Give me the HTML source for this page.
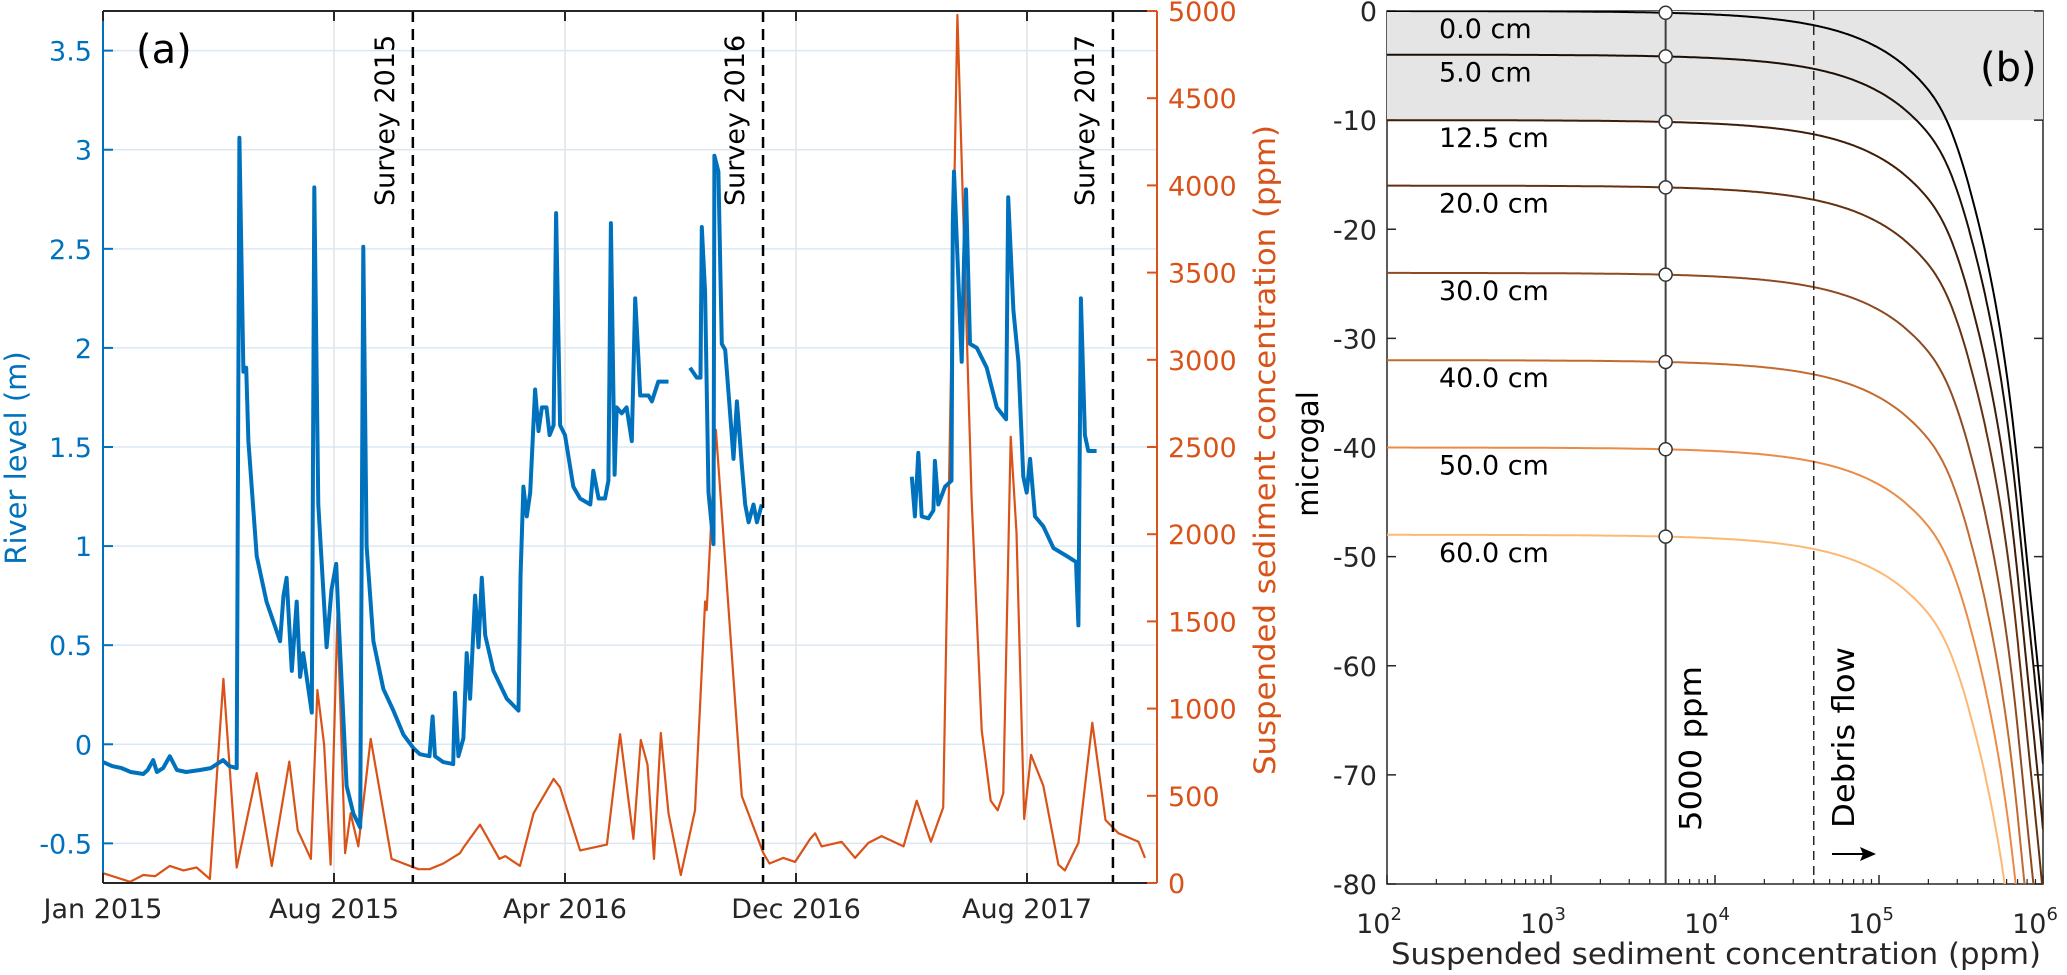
<!DOCTYPE html>
<html><head><meta charset="utf-8"><style>
html,body{margin:0;padding:0;background:#fff;width:2067px;height:975px;overflow:hidden;}
svg{display:block;font-family:"DejaVu Sans","Liberation Sans",sans-serif;}
</style></head><body>
<svg id="fig" width="2067" height="975" viewBox="0 0 2067 975" xmlns="http://www.w3.org/2000/svg"></svg>
<script>
// ---------- Panel (a) data ----------
const xTickMonths=[0,7.5,15,22.5,30];
const xTickLabels=["Jan 2015","Aug 2015","Apr 2016","Dec 2016","Aug 2017"];
const leftTicks=[-0.5,0,0.5,1,1.5,2,2.5,3,3.5];
const leftTickLabels=["-0.5","0","0.5","1","1.5","2","2.5","3","3.5"];
const rightTicks=[0,500,1000,1500,2000,2500,3000,3500,4000,4500,5000];
const surveyMonths=[10.06,21.43,32.79];
const surveyLabels=["Survey 2015","Survey 2016","Survey 2017"];
const riverT=[0,0.3,0.6,0.9,1.31,1.45,1.63,1.75,1.95,2.17,2.4,2.7,3.15,3.5,3.9,4.1,4.34,4.43,4.56,4.65,4.72,4.99,5.31,5.75,5.86,5.96,6.13,6.29,6.4,6.5,6.78,6.86,6.99,7.26,7.42,7.57,7.65,7.91,8.13,8.35,8.45,8.56,8.78,9.1,9.43,9.75,10.08,10.29,10.6,10.7,10.78,11.05,11.37,11.43,11.54,11.7,11.81,11.92,12.08,12.19,12.3,12.41,12.68,13.11,13.49,13.56,13.65,13.76,13.87,14.03,14.14,14.25,14.4,14.5,14.63,14.71,14.84,15.0,15.27,15.49,15.82,15.92,16.09,16.3,16.41,16.49,16.61,16.68,16.84,17.0,17.17,17.28,17.38,17.44,17.71,17.82,18.03,18.36,18.7,19.06,19.28,19.4,19.44,19.55,19.66,19.82,19.85,19.98,20.09,20.2,20.36,20.47,20.58,20.74,20.85,20.96,21.12,21.23,21.39,23.9,26.26,26.36,26.47,26.58,26.8,26.96,27.01,27.12,27.34,27.55,27.59,27.63,27.72,27.88,27.95,28.02,28.15,28.37,28.69,29.02,29.32,29.39,29.56,29.72,29.88,29.99,30.1,30.26,30.53,30.86,31.29,31.59,31.67,31.75,31.88,31.99,32.26];
const riverLevel=[-0.09,-0.11,-0.12,-0.14,-0.15,-0.13,-0.08,-0.14,-0.12,-0.06,-0.13,-0.14,-0.13,-0.12,-0.08,-0.11,-0.12,3.06,1.88,1.9,1.53,0.95,0.72,0.52,0.75,0.84,0.37,0.72,0.34,0.46,0.16,2.81,1.21,0.49,0.78,0.91,0.63,-0.21,-0.35,-0.42,2.51,1.0,0.52,0.28,0.17,0.05,-0.02,-0.05,-0.06,0.14,-0.06,-0.09,-0.10,0.26,-0.06,0.03,0.46,0.23,0.75,0.49,0.84,0.55,0.37,0.23,0.17,0.86,1.3,1.15,1.27,1.79,1.58,1.7,1.7,1.56,1.61,2.68,1.61,1.56,1.3,1.24,1.21,1.38,1.24,1.24,1.33,2.63,1.36,1.70,1.67,1.70,1.53,2.25,1.96,1.76,1.76,1.73,1.83,1.83,null,1.90,1.85,1.85,2.61,2.28,1.27,1.01,2.97,2.89,2.02,1.99,1.67,1.44,1.73,1.41,1.21,1.12,1.21,1.12,1.21,null,1.35,1.15,1.47,1.15,1.14,1.18,1.43,1.21,1.3,1.33,2.63,2.89,2.54,1.93,2.42,2.80,2.02,2.00,1.90,1.70,1.64,2.76,2.19,1.93,1.35,1.27,1.44,1.15,1.10,0.99,0.95,0.92,0.60,2.25,1.56,1.48,1.48];
const sscT=[0,0.88,1.31,1.69,2.17,2.61,3.04,3.47,3.91,4.34,4.99,5.48,6.05,6.32,6.75,6.96,7.18,7.39,7.61,7.86,8.04,8.29,8.69,9.37,10.24,10.6,11.05,11.59,11.7,12.24,12.87,13.06,13.54,13.98,14.63,14.84,15.49,16.36,16.79,17.22,17.46,17.68,17.89,18.11,18.36,18.76,19.22,19.55,19.6,19.9,20.74,21.44,21.64,22.09,22.47,22.96,23.12,23.33,23.98,24.42,24.85,25.28,25.99,26.42,26.88,27.28,27.74,28.2,28.53,28.82,29.05,29.23,29.47,29.66,29.91,30.13,30.53,31.02,31.23,31.67,32.12,32.55,32.97,33.62,33.83];
const sscPpm=[56,7,46,39,98,72,89,23,1171,89,630,98,696,302,138,1106,794,105,1532,171,400,210,827,138,79,79,112,171,203,335,138,154,98,400,597,548,187,220,853,253,820,679,138,860,400,46,417,1614,1565,2598,499,171,112,144,121,253,285,210,236,144,230,269,210,472,236,433,4977,2205,876,472,417,515,2559,2008,367,735,558,105,72,230,919,361,285,236,144];
// ---------- Panel (b) data ----------
const depthLabels=["0.0 cm","5.0 cm","12.5 cm","20.0 cm","30.0 cm","40.0 cm","50.0 cm","60.0 cm"];
const depthOffsets=[0,-4,-10,-16,-24,-32,-40,-48];
const curveColors=["#000000","#1d0f06","#3f1d09","#653210","#8e4b22","#c26b31","#ea8b46","#fdb874"];
const dropC=[100,1000,8900,40000,100000,148000,235000,380000,600000,800000,1000000];
const dropVal=[0.0033,0.033,0.29,1.3,3.4,5.2,8.8,17.8,33.2,50.4,65];
const markerPpm=5000;
const debrisPpm=40000;
const bYTicks=[0,-10,-20,-30,-40,-50,-60,-70,-80];
const bXExp=[2,3,4,5,6];

const NS="http://www.w3.org/2000/svg";
const svg=document.getElementById('fig');
function mk(tag,attrs,parent){const e=document.createElementNS(NS,tag);for(const k in attrs)e.setAttribute(k,attrs[k]);(parent||svg).appendChild(e);return e;}
const AX0=103,AX1=1157,AY0=11,AY1=883;
const xA=m=>AX0+m*30.8;
const yBlue=v=>AY1-(v+0.70)/4.40*(AY1-AY0);
const yOr=v=>AY1-v/5000*(AY1-AY0);
const BX0=1387,BX1=2043,BY0=11,BY1=884;
const xB=c=>BX0+(Math.log10(c)-2)*164;
const yB=v=>BY0-v*(BY1-BY0)/80;

// ===== Panel a =====
const ga=mk('g',{});


leftTicks.forEach(v=>{const l=mk('line',{x1:AX0,x2:AX1,y1:yBlue(v),y2:yBlue(v),stroke:'#dbe8f4','stroke-width':1.5},ga);

});
xTickMonths.forEach((m,i)=>{if(i===0)return;const l=mk('line',{x1:xA(m),x2:xA(m),y1:AY0,y2:AY1,stroke:'#e2e4e8','stroke-width':1.5},ga);

});
let d='';sscT.forEach((t,i)=>{d+=(i?'L':'M')+xA(t).toFixed(1)+' '+yOr(sscPpm[i]).toFixed(1);});
const po=mk('path',{d:d,fill:'none',stroke:'#D95319','stroke-width':2.2,'stroke-linejoin':'round'},ga);


d='';let pen=false;riverT.forEach((t,i)=>{const v=riverLevel[i];if(v===null){pen=false;return;}d+=(pen?'L':'M')+xA(t).toFixed(1)+' '+yBlue(v).toFixed(1);pen=true;});
const pb=mk('path',{d:d,fill:'none',stroke:'#0072BD','stroke-width':4,'stroke-linejoin':'round'},ga);


surveyMonths.forEach((m,i)=>{const x=xA(m);
const l=mk('line',{x1:x,x2:x,y1:AY0,y2:AY1,stroke:'#000','stroke-width':2.5,'stroke-dasharray':'11 7'},ga);


const t=mk('text',{x:0,y:0,transform:`translate(${x-19},206) rotate(-90)`,'font-size':27,fill:'#000'},ga);t.textContent=surveyLabels[i];

});
const axT=mk('line',{x1:AX0,x2:AX1,y1:AY0,y2:AY0,stroke:'#262626','stroke-width':2},ga);


const axB=mk('line',{x1:AX0,x2:AX1,y1:AY1,y2:AY1,stroke:'#262626','stroke-width':2},ga);


const axL=mk('line',{x1:AX0,x2:AX0,y1:AY0,y2:AY1,stroke:'#0072BD','stroke-width':2},ga);


const axR=mk('line',{x1:AX1,x2:AX1,y1:AY0,y2:AY1,stroke:'#D95319','stroke-width':2},ga);


xTickMonths.forEach((m,i)=>{const x=xA(m);
mk('line',{x1:x,x2:x,y1:AY1,y2:AY1-10,stroke:'#262626','stroke-width':2},ga);
mk('line',{x1:x,x2:x,y1:AY0,y2:AY0+10,stroke:'#262626','stroke-width':2},ga);
const t=mk('text',{x:x,y:918,'font-size':27,'text-anchor':'middle',fill:'#262626'},ga);t.textContent=xTickLabels[i];

});
leftTicks.forEach((v,i)=>{const y=yBlue(v);
mk('line',{x1:AX0,x2:AX0+10,y1:y,y2:y,stroke:'#0072BD','stroke-width':2},ga);
const t=mk('text',{x:92,y:y+10,'font-size':27,'text-anchor':'end',fill:'#0072BD'},ga);t.textContent=leftTickLabels[i];

});
rightTicks.forEach(v=>{const y=yOr(v);
mk('line',{x1:AX1,x2:AX1-10,y1:y,y2:y,stroke:'#D95319','stroke-width':2},ga);
const t=mk('text',{x:1168,y:y+10,'font-size':27,fill:'#D95319'},ga);t.textContent=String(v);

});
const yl=mk('text',{x:0,y:0,transform:'translate(26,458) rotate(-90)','font-size':29,'text-anchor':'middle',fill:'#0072BD'},ga);yl.textContent='River level (m)';


const yr=mk('text',{x:0,y:0,transform:'translate(1275,450) rotate(-90)','font-size':29,'text-anchor':'middle',fill:'#D95319',textLength:650,lengthAdjust:'spacingAndGlyphs'},ga);yr.textContent='Suspended sediment concentration (ppm)';


const pa=mk('text',{x:136,y:63,'font-size':40,fill:'#000'},ga);pa.textContent='(a)';



// ===== Panel b =====
const gb=mk('g',{});


mk('clipPath',{id:'clipb'},gb);
mk('rect',{x:BX0,y:BY0,width:BX1-BX0,height:BY1-BY0},document.getElementById('clipb'));
const box=mk('rect',{x:BX0,y:BY0,width:BX1-BX0,height:BY1-BY0,fill:'none',stroke:'#262626','stroke-width':1.5},gb);


const shade=mk('rect',{x:BX0,y:yB(0),width:BX1-BX0,height:yB(-10)-yB(0),fill:'#e5e5e5'},gb);


bYTicks.forEach(v=>{const y=yB(v);
mk('line',{x1:BX0,x2:BX0+9,y1:y,y2:y,stroke:'#262626','stroke-width':1.5},gb);
mk('line',{x1:BX1,x2:BX1-9,y1:y,y2:y,stroke:'#262626','stroke-width':1.5},gb);
const t=mk('text',{x:1377,y:y+10,'font-size':27,'text-anchor':'end',fill:'#262626'},gb);t.textContent=String(v);

});
bXExp.forEach((e,i)=>{const x=xB(Math.pow(10,e));
mk('line',{x1:x,x2:x,y1:BY1,y2:BY1-9,stroke:'#262626','stroke-width':1.5},gb);
if(i<bXExp.length-1){for(let k=2;k<10;k++){const xm=xB(k*Math.pow(10,e));mk('line',{x1:xm,x2:xm,y1:BY1,y2:BY1-5,stroke:'#262626','stroke-width':1.2},gb);}}
const t=mk('text',{x:x-8,y:933,'font-size':27,'text-anchor':'middle',fill:'#262626'},gb);


const s1=mk('tspan',{},t);s1.textContent='10';
const s2=mk('tspan',{dy:-13,'font-size':18},t);s2.textContent=String(e);});
// drop: monotone cubic in log-log space
const LX=dropC.map(c=>Math.log10(c)), LY=dropVal.map(v=>Math.log10(v));
const nP=LX.length, sl=[], tg=[];
for(let i=0;i<nP-1;i++)sl.push((LY[i+1]-LY[i])/(LX[i+1]-LX[i]));
for(let i=0;i<nP;i++){if(i===0)tg.push(sl[0]);else if(i===nP-1)tg.push(sl[nP-2]);else tg.push((sl[i-1]+sl[i])/2);}
function drop(c){const x=Math.log10(c);let i=0;while(i<nP-2&&x>LX[i+1])i++;
const h=LX[i+1]-LX[i],t=Math.min(1,Math.max(0,(x-LX[i])/h));
const h00=2*t*t*t-3*t*t+1,h10=t*t*t-2*t*t+t,h01=-2*t*t*t+3*t*t,h11=t*t*t-t*t;
return Math.pow(10,h00*LY[i]+h10*h*tg[i]+h01*LY[i+1]+h11*h*tg[i+1]);}
const gc=mk('g',{'clip-path':'url(#clipb)'},gb);
depthOffsets.forEach((off,i)=>{let dd='';for(let k=0;k<=600;k++){const c=Math.pow(10,2+4*k/600);dd+=(k?'L':'M')+xB(c).toFixed(1)+' '+yB(off-drop(c)).toFixed(1);}
const p=mk('path',{d:dd,fill:'none',stroke:curveColors[i],'stroke-width':2},gc);

});
const l5=mk('line',{x1:xB(markerPpm),x2:xB(markerPpm),y1:BY0,y2:BY1,stroke:'#404040','stroke-width':2},gb);


const ld=mk('line',{x1:xB(debrisPpm),x2:xB(debrisPpm),y1:BY0,y2:BY1,stroke:'#262626','stroke-width':1.5,'stroke-dasharray':'9 6'},gb);


depthOffsets.forEach((off,i)=>{
const c=mk('circle',{cx:xB(markerPpm),cy:yB(off-drop(markerPpm)),r:6.5,fill:'#fff',stroke:'#333','stroke-width':1.5},gb);


const t=mk('text',{x:1439,y:yB(off)+27,'font-size':27,fill:'#000'},gb);t.textContent=depthLabels[i];

});
const t5=mk('text',{x:0,y:0,transform:'translate(1701,831) rotate(-90)','font-size':30,fill:'#000',textLength:165,lengthAdjust:'spacingAndGlyphs'},gb);t5.textContent='5000 ppm';


const tdf=mk('text',{x:0,y:0,transform:'translate(1854,828) rotate(-90)','font-size':30,fill:'#000',textLength:181,lengthAdjust:'spacingAndGlyphs'},gb);tdf.textContent='Debris flow';


const ar=mk('g',{},gb);


mk('line',{x1:1832,x2:1866,y1:854,y2:854,stroke:'#000','stroke-width':2},ar);
mk('polygon',{points:'1876,854 1860,847 1863,854 1860,861',fill:'#000'},ar);
const pbl=mk('text',{x:1980,y:81,'font-size':40,fill:'#000'},gb);pbl.textContent='(b)';


const ybl=mk('text',{x:0,y:0,transform:'translate(1318,454) rotate(-90)','font-size':29,'text-anchor':'middle',fill:'#000'},gb);ybl.textContent='microgal';


const xbl=mk('text',{x:1716,y:964,'font-size':29,'text-anchor':'middle',fill:'#262626',textLength:650,lengthAdjust:'spacingAndGlyphs'},gb);xbl.textContent='Suspended sediment concentration (ppm)';


</script>
</body></html>
